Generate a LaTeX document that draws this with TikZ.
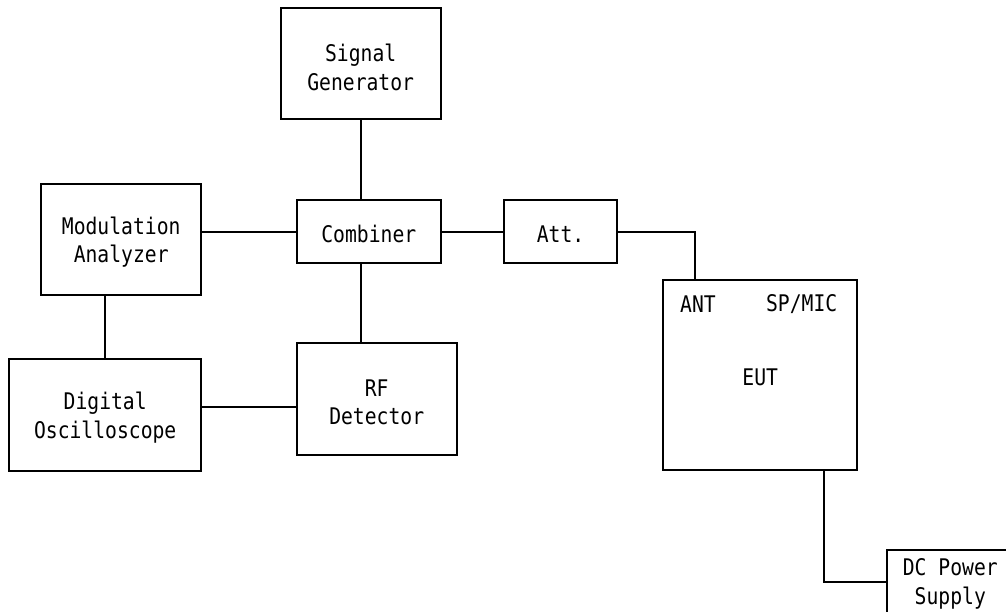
\documentclass[tikz,border=0pt]{standalone}
\usepackage{fontspec}
\newfontfamily\diagfont[FakeStretch=0.86]{DejaVu Sans Mono}
\usetikzlibrary{calc}
\begin{document}
\begin{tikzpicture}[x=1pt,y=-1pt,line width=2pt,
  txt/.style={font=\diagfont\fontsize{22.9}{28.5}\selectfont},
  box/.style={draw,line width=2pt,inner sep=0pt},
  lbl/.style={inner sep=0pt,align=center,txt}]
\useasboundingbox (0,0) rectangle (1006,612);
\node[box,minimum width=160pt,minimum height=111pt] (sg) at (360.7,63.8) {};
\node[box,minimum width=144.3pt,minimum height=63.3pt] (comb) at (368.8,231.7) {};
\node[box,minimum width=112.4pt,minimum height=63.3pt] (att) at (560.5,231.7) {};
\node[box,minimum width=160.3pt,minimum height=111.3pt] (ma) at (121.2,239.7) {};
\node[box,minimum width=192.3pt,minimum height=111.7pt] (dosc) at (105.2,414.8) {};
\node[box,minimum width=160pt,minimum height=111.7pt] (rf) at (376.7,399.2) {};
\node[box,minimum width=193.7pt,minimum height=190pt] (eut) at (760.2,375) {};
\node[box,minimum width=126pt,minimum height=63pt] (dc) at (950.3,581.5) {};
\node[lbl] (sgt) at ($(sg)+(0,3.5)$) {Signal\\Generator};
\node[lbl] (combt) at ($(comb)+(0,2.5)$) {Combiner};
\node[lbl] (attt) at ($(att)+(0,2.5)$) {Att.};
\node[lbl] (mat) at ($(ma)+(0,2.5)$) {Modulation\\Analyzer};
\node[lbl] (doscT) at ($(dosc)+(0,2.8)$) {Digital\\Oscilloscope};
\node[lbl] (rft) at ($(rf)+(0,3.3)$) {RF\\Detector};
\node[lbl] (eutt) at ($(eut)+(0,2)$) {EUT};
\node[lbl] (dct) at ($(dc)+(0,2.5)$) {DC Power\\Supply};
\node[lbl] (ant) at (698,304) {ANT};
\node[lbl] (spmic) at (801.7,304) {SP/MIC};
\coordinate (antpin) at ($(eut.north west)+(32.7,0)$);
\coordinate (pwrpin) at ($(eut.south east)+(-33.7,0)$);
\coordinate (m) at ($(dosc.east)!.5!(rf.west)$);
\draw (sg.south) -- (sg.south |- comb.north);
\draw (sg.south |- comb.south) -- (sg.south |- rf.north);
\draw (comb.west) -- (comb.west -| ma.east);
\draw (dosc.north) -- (dosc.north |- ma.south);
\draw (dosc.east |- m) -- (rf.west |- m);
\draw (comb.east) -- (att.west);
\draw (att.east) -| (antpin);
\draw (pwrpin) |- (dc.west);
\end{tikzpicture}
\end{document}
